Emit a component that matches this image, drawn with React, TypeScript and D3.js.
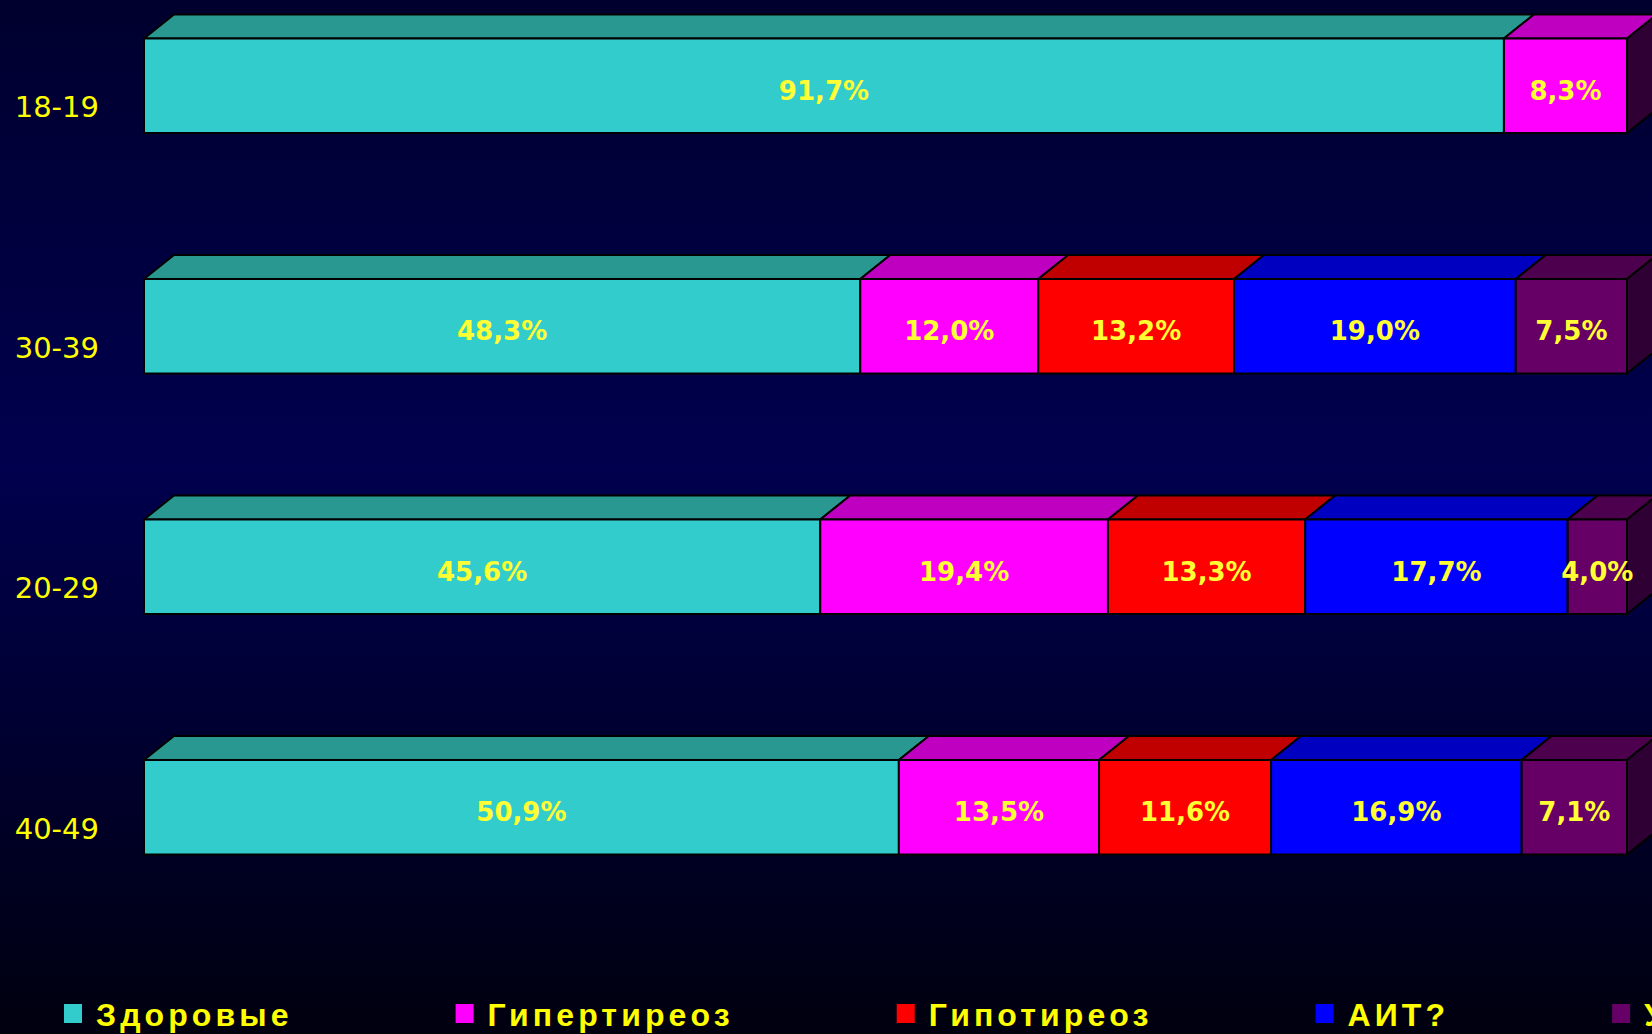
import React, { useEffect, useRef } from "react";
import * as d3 from "d3";

const categories = ["18-19", "30-39", "20-29", "40-49"];
const seriesNames = ["Здоровые", "Гипертиреоз", "Гипотиреоз", "АИТ?", "Узловой зоб"];
const healthy = [91.7, 48.3, 45.6, 50.9];
const hyper = [8.3, 12.0, 19.4, 13.5];
const hypo = [0, 13.2, 13.3, 11.6];
const ait = [0, 19.0, 17.7, 16.9];
const other = [0, 7.5, 4.0, 7.1];
const seriesValues = [healthy, hyper, hypo, ait, other];

const frontColors = ["#33cccc", "#ff00ff", "#ff0000", "#0000ff", "#660066"];
const topColors = ["#289890", "#c000c0", "#c00000", "#0000c0", "#4d004d"];
const sideColor = "#2e0033";

const W = 1652;
const H = 1034;
const DX = 30;
const DY = 24;

export default function App() {
  const ref = useRef<SVGSVGElement | null>(null);

  useEffect(() => {
    const svg = d3.select(ref.current);
    svg.selectAll("*").remove();

    const defs = svg.append("defs");
    const grad = defs
      .append("linearGradient")
      .attr("id", "bg")
      .attr("x1", 0)
      .attr("y1", 0)
      .attr("x2", 0)
      .attr("y2", 1);
    [
      [0, "#00002e"],
      [0.45, "#00004e"],
      [0.75, "#00002c"],
      [1, "#00000f"],
    ].forEach(([o, c]) => grad.append("stop").attr("offset", o as number).attr("stop-color", c as string));
    svg.append("rect").attr("width", W).attr("height", H).attr("fill", "url(#bg)");

    const x = d3.scaleLinear().domain([0, 100]).range([144, 1627]);
    const y = d3.scaleBand<string>().domain(categories).range([38.5, 854.5]).paddingInner(0.607).paddingOuter(0);
    const bh = y.bandwidth();

    const fmt = (v: number) => d3.format(".1f")(v).replace(".", ",") + "%";

    categories.forEach((cat, ci) => {
      const g = svg.append("g");
      const y0 = y(cat)!;
      let acc = 0;
      const segs = seriesValues.map((vals, si) => {
        const s = { si, v: vals[ci], x0: x(acc), x1: x(acc + vals[ci]) };
        acc += vals[ci];
        return s;
      });
      segs.forEach((s) => {
        if (s.v <= 0) return;
        g.append("path")
          .attr(
            "d",
            d3.line()([
              [s.x0, y0],
              [s.x0 + DX, y0 - DY],
              [s.x1 + DX, y0 - DY],
              [s.x1, y0],
            ]) + "Z"
          )
          .attr("fill", topColors[s.si])
          .attr("stroke", "#000")
          .attr("stroke-width", 2)
          .attr("stroke-linejoin", "round");
      });
      const xr = x(100);
      g.append("path")
        .attr(
          "d",
          d3.line()([
            [xr, y0],
            [xr + DX, y0 - DY],
            [xr + DX, y0 + bh - DY],
            [xr, y0 + bh],
          ]) + "Z"
        )
        .attr("fill", sideColor)
        .attr("stroke", "#000")
        .attr("stroke-width", 2);
      segs.forEach((s) => {
        if (s.v <= 0) return;
        g.append("rect")
          .attr("x", s.x0)
          .attr("y", y0)
          .attr("width", s.x1 - s.x0)
          .attr("height", bh)
          .attr("fill", frontColors[s.si])
          .attr("stroke", "#000")
          .attr("stroke-width", 2);
      });
      segs.forEach((s) => {
        if (s.v <= 0) return;
        g.append("text")
          .attr("x", (s.x0 + s.x1) / 2)
          .attr("y", y0 + bh / 2 + 14)
          .attr("text-anchor", "middle")
          .attr("font-family", "'DejaVu Sans', Verdana, sans-serif")
          .attr("font-weight", "bold")
          .attr("font-size", 26)
          .attr("fill", "#ffff33")
          .text(fmt(s.v));
      });
      svg
        .append("text")
        .attr("x", 99)
        .attr("y", y0 + bh - 16)
        .attr("text-anchor", "end")
        .attr("font-family", "'DejaVu Sans', Verdana, sans-serif")
        .attr("font-size", 29)
        .attr("fill", "#ffff00")
        .text(cat);
    });

    const lg = svg.append("g");
    let lx = 64;
    seriesNames.forEach((name, i) => {
      lg.append("rect")
        .attr("x", lx)
        .attr("y", 1004)
        .attr("width", 18)
        .attr("height", 19)
        .attr("fill", frontColors[i]);
      const t = lg
        .append("text")
        .attr("x", lx + 32)
        .attr("y", 1026)
        .attr("font-family", "'Liberation Sans', Arial, sans-serif")
        .attr("font-weight", "bold")
        .attr("font-size", 32)
        .attr("letter-spacing", 4.1)
        .attr("fill", "#ffff00")
        .text(name);
      const w = (t.node() as SVGTextElement).getComputedTextLength();
      lx = lx + 32 + w + 163;
    });
  }, []);

  return (
    <svg
      ref={ref}
      width={W}
      height={H}
      style={{ position: "absolute", left: 0, top: 0, display: "block" }}
    />
  );
}
